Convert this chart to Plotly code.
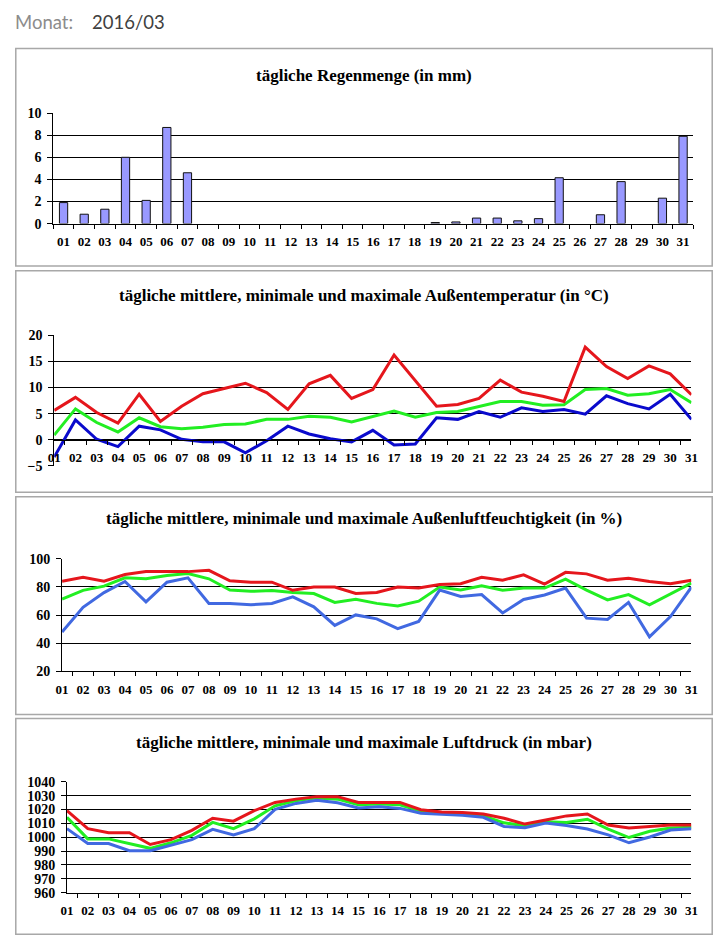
import plotly.graph_objects as go

# The browser page keeps its default 8px body margin, so the figure is sized
# to fit exactly inside the 728x951 window and all positions below are page pixels.
PAGE_W, PAGE_H = 728, 951
OFF = 8
W, H = PAGE_W - 2 * OFF, PAGE_H - 2 * OFF

days = ["01", "02", "03", "04", "05", "06", "07", "08", "09", "10", "11", "12", "13", "14", "15", "16",
        "17", "18", "19", "20", "21", "22", "23", "24", "25", "26", "27", "28", "29", "30", "31"]

rain = [1.9, 0.85, 1.3, 6.0, 2.1, 8.7, 4.6, 0, 0, 0, 0, 0, 0, 0, 0, 0,
        0, 0, 0.1, 0.15, 0.5, 0.5, 0.25, 0.45, 4.15, 0, 0.8, 3.8, 0, 2.3, 7.9]

temp_max = [5.6, 8.1, 5.2, 3.2, 8.7, 3.5, 6.4, 8.8, 9.8, 10.8, 9.0, 5.8, 10.7, 12.3, 7.9, 9.6,
            16.2, 11.2, 6.4, 6.75, 7.9, 11.4, 9.1, 8.3, 7.3, 17.7, 14.0, 11.7, 14.1, 12.6, 8.6]
temp_mean = [0.9, 5.9, 3.3, 1.5, 4.2, 2.5, 2.1, 2.4, 2.9, 3.0, 3.9, 3.9, 4.5, 4.3, 3.4, 4.5,
             5.5, 4.3, 5.2, 5.4, 6.4, 7.3, 7.3, 6.6, 6.7, 9.6, 9.8, 8.5, 8.8, 9.6, 7.1]
temp_min = [-3.3, 3.8, 0.1, -1.3, 2.6, 1.9, 0.1, -0.4, -0.4, -2.5, -0.2, 2.6, 1.1, 0.2, -0.4, 1.8,
            -1.0, -0.8, 4.2, 3.9, 5.4, 4.3, 6.1, 5.4, 5.8, 4.9, 8.4, 6.9, 5.9, 8.7, 3.9]

hum_max = [84.1, 86.9, 84.1, 88.8, 90.9, 90.9, 90.9, 91.8, 84.4, 83.4, 83.4, 77.6, 79.9, 79.9, 75.3, 76.0,
           79.9, 79.2, 81.8, 82.3, 86.9, 84.8, 88.6, 82.0, 90.4, 89.3, 84.8, 86.2, 83.9, 82.3, 84.8]
hum_mean = [71.3, 77.6, 80.6, 86.5, 85.8, 88.1, 89.5, 85.8, 77.8, 76.9, 77.4, 76.0, 75.3, 69.0, 71.3, 68.3,
            66.4, 69.9, 79.9, 77.8, 80.9, 77.6, 79.2, 79.2, 85.5, 77.8, 70.8, 74.6, 67.3, 75.0, 82.7]
hum_min = [48.0, 65.5, 76.0, 83.9, 69.4, 83.4, 86.5, 68.3, 68.3, 67.3, 68.3, 72.9, 65.9, 52.7, 60.1, 57.3,
           50.3, 55.5, 77.8, 73.2, 74.6, 61.5, 71.1, 74.3, 79.2, 57.8, 56.9, 69.0, 44.5, 58.9, 79.9]

press_max = [1019.2, 1006.2, 1003.3, 1003.3, 994.8, 998.3, 1005.0, 1013.7, 1011.6, 1019.2, 1025.1,
             1027.5, 1029.3, 1029.3, 1025.1, 1025.1, 1025.1, 1019.9, 1018.2, 1017.8, 1016.8, 1013.7,
             1009.5, 1012.5, 1015.4, 1016.8, 1008.8, 1006.6, 1007.6, 1008.8, 1008.8]
press_mean = [1014.4, 998.8, 998.8, 995.5, 992.0, 996.0, 1001.4, 1010.7, 1006.2, 1013.3, 1022.7,
              1026.3, 1028.4, 1027.5, 1023.4, 1023.9, 1023.4, 1018.7, 1017.8, 1016.8, 1015.4, 1010.4,
              1008.3, 1011.1, 1010.7, 1013.0, 1005.9, 999.8, 1004.3, 1006.6, 1007.3]
press_min = [1006.2, 995.5, 995.5, 990.3, 990.3, 994.3, 998.3, 1005.7, 1001.7, 1006.2, 1020.1,
             1024.4, 1026.7, 1024.9, 1021.1, 1022.0, 1020.8, 1017.3, 1016.8, 1015.9, 1014.4, 1007.8,
             1006.9, 1010.2, 1008.5, 1005.9, 1001.7, 996.0, 1000.2, 1005.2, 1006.2]

titles = ["tägliche Regenmenge (in mm)",
          "tägliche mittlere, minimale und maximale Außentemperatur (in °C)",
          "tägliche mittlere, minimale und maximale Außenluftfeuchtigkeit (in %)",
          "tägliche mittlere, minimale und maximale Luftdruck (in mbar)"]

RED = "#E5161C"
GREEN = "#22EE22"
BLUE_DARK = "#0A0ACC"
BLUE = "#4169E1"
SERIF = "Liberation Serif"


def px_x(p):
    return (p - OFF) / W


def px_y(p):
    return 1 - (p - OFF) / H


fig = go.Figure()

# rain (no outline on empty days)
fig.add_trace(go.Bar(x=days, y=rain, xaxis="x", yaxis="y", width=0.4,
                     marker=dict(color="#9999FF",
                                 line=dict(color="#111111",
                                           width=[1 if v > 0 else 0 for v in rain]))))

# temperature, humidity, pressure
groups = [
    ("x2", "y2", temp_mean, temp_min, temp_max, BLUE_DARK),
    ("x3", "y3", hum_mean, hum_min, hum_max, BLUE),
    ("x4", "y4", press_mean, press_min, press_max, BLUE),
]
for xa, ya, mean, mn, mx, bcol in groups:
    fig.add_trace(go.Scatter(x=days, y=mean, xaxis=xa, yaxis=ya, mode="lines",
                             line=dict(color=GREEN, width=3)))
    fig.add_trace(go.Scatter(x=days, y=mn, xaxis=xa, yaxis=ya, mode="lines",
                             line=dict(color=bcol, width=3)))
    fig.add_trace(go.Scatter(x=days, y=mx, xaxis=xa, yaxis=ya, mode="lines",
                             line=dict(color=RED, width=3)))

xtick_font = dict(family=SERIF, size=13, color="black", weight="bold")
ytick_font = dict(family=SERIF, size=14, color="black", weight="bold")


def xaxis(left, right, **kw):
    d = dict(domain=[px_x(left), px_x(right)], type="category", showline=True, linecolor="black",
             linewidth=1, ticks="outside", tickson="boundaries", ticklen=4, tickcolor="black",
             tickfont=xtick_font, tickangle=0, showgrid=False, zeroline=False, fixedrange=True,
             ticklabelstandoff=6)
    d.update(kw)
    return d


def yaxis(top, bottom, rng, dtick, anchor):
    return dict(domain=[px_y(bottom), px_y(top)], range=rng, dtick=dtick, showline=True,
                linecolor="black", linewidth=1, ticks="outside", ticklen=5, tickcolor="black",
                tickfont=ytick_font, showgrid=True, gridcolor="black", gridwidth=1,
                zeroline=False, anchor=anchor, fixedrange=True, ticklabelstandoff=3)


y0_temp = 333.3 + (466.3 - 333.3) * 20 / 25

layout = dict(
    width=W, height=H, margin=dict(l=0, r=0, t=0, b=0),
    paper_bgcolor="white", plot_bgcolor="white", showlegend=False,
    bargap=0.6, hovermode=False,
    xaxis=xaxis(47, 700, anchor="y"),
    yaxis=yaxis(107.7, 220, [0, 10], 2, "x"),
    xaxis2=xaxis(48, 698, anchor="free", position=px_y(y0_temp)),
    yaxis2=yaxis(333.3, 466.3, [-5, 20], 5, "x2"),
    xaxis3=xaxis(56, 698, anchor="y3"),
    yaxis3=yaxis(560.7, 675, [20, 100], 20, "x3"),
    xaxis4=xaxis(61, 698, anchor="y4"),
    yaxis4=yaxis(787.3, 900, [960, 1040], 10, "x4"),
)
fig.update_layout(**layout)

# panel frames
panels = [(42, 263), (268, 493), (497.5, 719), (723, 942.2)]
for top, bottom in panels:
    fig.add_shape(type="rect", xref="paper", yref="paper",
                  x0=px_x(8.8), x1=px_x(719.2), y0=px_y(bottom), y1=px_y(top),
                  line=dict(color="#A8A8A8", width=1.5), layer="below")

# titles
title_y = [69, 293, 520, 747]
for t, ty in zip(titles, title_y):
    fig.add_annotation(text=t, xref="paper", yref="paper", x=px_x(363.5), y=px_y(ty),
                       xanchor="center", yanchor="middle", showarrow=False,
                       font=dict(family=SERIF, size=17, color="black", weight="bold"))

# header
fig.add_annotation(text="Monat:", xref="paper", yref="paper", x=px_x(6), y=px_y(15),
                   xanchor="left", yanchor="middle", showarrow=False,
                   font=dict(family="Lato", size=18.5, color="#8C8C8C"))
fig.add_annotation(text="2016/03", xref="paper", yref="paper", x=px_x(85), y=px_y(15),
                   xanchor="left", yanchor="middle", showarrow=False,
                   font=dict(family="Lato", size=18.5, color="#404040"))

fig.write_html("out.html", config={"displayModeBar": False})
